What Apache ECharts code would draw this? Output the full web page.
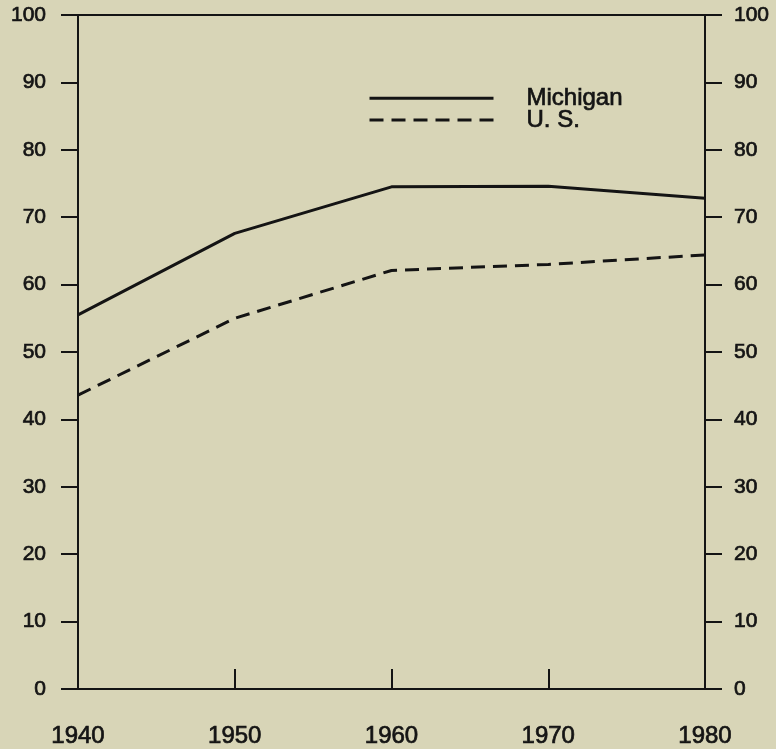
<!DOCTYPE html>
<html>
<head>
<meta charset="utf-8">
<script src="https://cdn.jsdelivr.net/npm/echarts@6/dist/echarts.min.js"></script>
<style>
html,body{margin:0;padding:0;background:#d8d5b7;}
#chart{width:776px;height:749px;}
</style>
</head>
<body>
<div id="chart"></div>
<script>
const years = [1940, 1950, 1960, 1970, 1980];
const michigan = [55.5, 67.6, 74.5, 74.6, 72.8];
const us = [43.6, 55.0, 62.1, 63.0, 64.4];
const seriesNames = ['Michigan', 'U. S.'];

const ink = '#141414';
const font = 'Liberation Sans, Arial, Helvetica, sans-serif';
const heavy = {textBorderColor: ink, textBorderWidth: 0.7};

const chart = echarts.init(document.getElementById('chart'));
const yAxisBase = {
  type: 'value', min: 0, max: 100, interval: 10,
  axisLine: {show: true, lineStyle: {color: ink, width: 2}},
  axisTick: {show: true, inside: false, length: 17, lineStyle: {color: ink, width: 2}},
  splitLine: {show: false},
  axisLabel: Object.assign({color: ink, fontSize: 21, fontFamily: font}, heavy)
};
chart.setOption({
  backgroundColor: '#d8d5b7',
  animation: false,
  grid: {left: 78, right: 71, top: 15, bottom: 60, show: true, borderColor: ink, borderWidth: 2, backgroundColor: 'transparent'},
  legend: {
    orient: 'vertical', left: 368, top: 86, padding: 0,
    itemWidth: 124, itemHeight: 22, itemGap: -3,
    itemStyle: {opacity: 0},
    lineStyle: {width: 3, color: ink},
    textStyle: Object.assign({color: ink, fontSize: 24, lineHeight: 22, fontFamily: font, padding: [0, 0, 0, 28]}, heavy),
    data: seriesNames
  },
  xAxis: {
    type: 'value', min: 1940, max: 1980, interval: 10,
    axisLine: {show: true, lineStyle: {color: ink, width: 2}},
    axisTick: {show: true, inside: true, length: 20, lineStyle: {color: ink, width: 2}},
    splitLine: {show: false},
    axisLabel: Object.assign({color: ink, fontSize: 24, fontFamily: font, margin: 35, formatter: v => String(v)}, heavy)
  },
  yAxis: [
    Object.assign({}, yAxisBase, {position: 'left', axisLabel: Object.assign({}, yAxisBase.axisLabel, {margin: 32})}),
    Object.assign({}, yAxisBase, {position: 'right', axisLabel: Object.assign({}, yAxisBase.axisLabel, {margin: 29})})
  ],
  series: [
    {name: seriesNames[0], type: 'line', symbol: 'none', data: years.map((y, i) => [y, michigan[i]]),
     lineStyle: {color: ink, width: 3}, itemStyle: {color: ink}},
    {name: seriesNames[1], type: 'line', symbol: 'none', data: years.map((y, i) => [y, us[i]]),
     lineStyle: {color: ink, width: 3, type: [14, 8]}, itemStyle: {color: ink}}
  ]
});
</script>
</body>
</html>
